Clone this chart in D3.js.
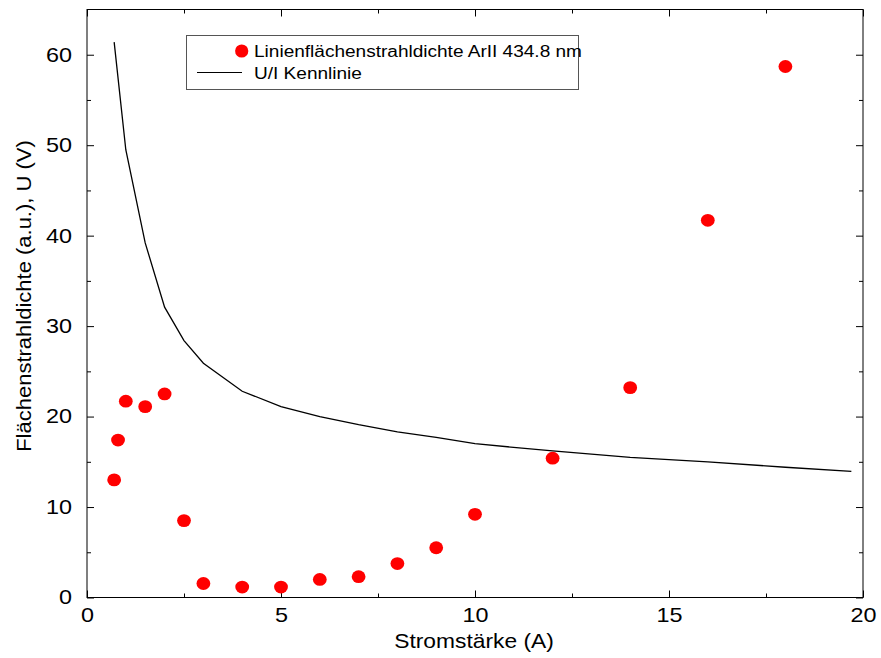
<!DOCTYPE html>
<html>
<head>
<meta charset="utf-8">
<script src="https://cdn.jsdelivr.net/npm/d3@7"></script>
<style>
  body { margin: 0; background: #fff; }
  svg { display: block; font-family: "Liberation Sans", Arial, Helvetica, sans-serif; }
</style>
</head>
<body>
<svg></svg>
<script>
// line radiance of ArII 434.8 nm vs. current
const current = [0.7, 0.8, 1, 1.5, 2, 2.5, 3, 4, 5, 6, 7, 8, 9, 10, 12, 14, 16, 18];
const radiance = [13.0, 17.4, 21.7, 21.1, 22.5, 8.5, 1.55, 1.15, 1.15, 2.0, 2.3, 3.75, 5.5, 9.2, 15.4, 23.2, 41.7, 58.7];

// U/I characteristic
const ivCurrent = [0.7, 1, 1.5, 2, 2.5, 3, 4, 5, 6, 7, 8, 9, 10, 12, 14, 16, 18, 19.7];
const ivVoltage = [61.4, 49.5, 39.2, 32.1, 28.4, 25.9, 22.8, 21.1, 20.0, 19.1, 18.3, 17.7, 17.0, 16.2, 15.5, 15.0, 14.4, 13.95];

const xTicks = [0, 5, 10, 15, 20];
const xMinor = [2.5, 7.5, 12.5, 17.5];
const yTicks = [0, 10, 20, 30, 40, 50, 60];
const yMinor = [5, 15, 25, 35, 45, 55];
const legendLabels = ["Linienflächenstrahldichte ArII 434.8 nm", "U/I Kennlinie"];

const width = 881;
const height = 658;
const k = 1.17; // horizontal text stretch

const svg = d3.select('svg')
  .attr('width', width)
  .attr('height', height);

const x = d3.scaleLinear().domain([0, 20]).range([87, 863]);
const y = d3.scaleLinear().domain([0, 65]).range([597.5, 9.5]);

// ticks on all four sides, pointing inward
function ticks(axis, values, size) {
  return axis.tickValues(values).tickSize(-size).tickFormat('');
}

const bottomAxis = svg.append('g').attr('transform', `translate(0,${y(0)})`);
bottomAxis.append('g').call(ticks(d3.axisBottom(x), xMinor, 4));
bottomAxis.append('g').call(d3.axisBottom(x).tickValues(xTicks).tickSize(-7).tickPadding(10));

const topAxis = svg.append('g').attr('transform', `translate(0,${y(65)})`);
topAxis.append('g').call(ticks(d3.axisTop(x), xMinor, 4));
topAxis.append('g').call(ticks(d3.axisTop(x), xTicks, 7));

const leftAxis = svg.append('g').attr('transform', `translate(${x(0)},0)`);
leftAxis.append('g').call(ticks(d3.axisLeft(y), yMinor, 4));
leftAxis.append('g').call(d3.axisLeft(y).tickValues(yTicks).tickSize(-7).tickPadding(15));

const rightAxis = svg.append('g').attr('transform', `translate(${x(20)},0)`);
rightAxis.append('g').call(ticks(d3.axisRight(y), yMinor, 4));
rightAxis.append('g').call(ticks(d3.axisRight(y), yTicks, 7));

svg.selectAll('.domain').remove();
svg.selectAll('.tick line').attr('stroke', '#000');

bottomAxis.selectAll('.tick text')
  .attr('font-size', 20)
  .attr('font-family', null)
  .attr('fill', '#000')
  .attr('transform', `scale(${k},1)`);

leftAxis.selectAll('.tick text')
  .attr('font-size', 20)
  .attr('font-family', null)
  .attr('fill', '#000')
  .attr('x', null)
  .attr('transform', `translate(-15,0) scale(${k},1)`);

// frame
svg.append('rect')
  .attr('x', x(0))
  .attr('y', y(65))
  .attr('width', x(20) - x(0))
  .attr('height', y(0) - y(65))
  .attr('fill', 'none')
  .attr('stroke', '#000')
  .attr('stroke-width', 1);

// U/I curve
const line = d3.line()
  .x((d, i) => x(ivCurrent[i]))
  .y(d => y(d));

svg.append('path')
  .datum(ivVoltage)
  .attr('d', line)
  .attr('fill', 'none')
  .attr('stroke', '#000')
  .attr('stroke-width', 1.3);

// radiance points
svg.append('g')
  .selectAll('ellipse')
  .data(radiance)
  .enter()
  .append('ellipse')
  .attr('cx', (d, i) => x(current[i]))
  .attr('cy', d => y(d))
  .attr('rx', 6.9)
  .attr('ry', 6.4)
  .attr('fill', '#ff0000');

// axis titles
svg.append('text')
  .attr('transform', `translate(${(x(0) + x(20)) / 2 - 1},648) scale(1.14,1)`)
  .attr('text-anchor', 'middle')
  .attr('font-size', 20)
  .text('Stromstärke (A)');

svg.append('text')
  .attr('transform', `translate(31,296) rotate(-90) scale(1.1,1)`)
  .attr('text-anchor', 'middle')
  .attr('font-size', 20)
  .text('Flächenstrahldichte (a.u.), U (V)');

// legend
const legend = svg.append('g');

legend.append('rect')
  .attr('x', 186.5)
  .attr('y', 35.5)
  .attr('width', 392)
  .attr('height', 54)
  .attr('fill', '#fff')
  .attr('stroke', '#555')
  .attr('stroke-width', 1);

legend.append('circle')
  .attr('cx', 241.7)
  .attr('cy', 51)
  .attr('r', 6.6)
  .attr('fill', '#ff0000');

legend.append('line')
  .attr('x1', 197)
  .attr('x2', 242)
  .attr('y1', 72.5)
  .attr('y2', 72.5)
  .attr('stroke', '#000')
  .attr('stroke-width', 1);

legend.selectAll('text')
  .data(legendLabels)
  .enter()
  .append('text')
  .attr('transform', (d, i) => `translate(254,${i === 0 ? 56.8 : 79}) scale(1.19,1)`)
  .attr('font-size', 16)
  .text(d => d);
</script>
</body>
</html>
